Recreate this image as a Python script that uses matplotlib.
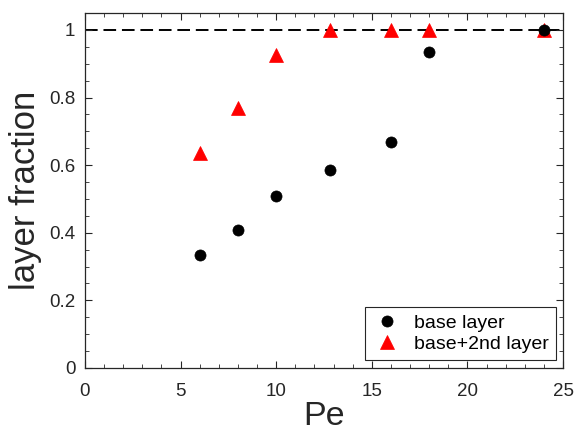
import numpy as np
import matplotlib
matplotlib.use('Agg')
import matplotlib.pyplot as plt
from matplotlib.ticker import MultipleLocator

plt.rcParams['font.family'] = ['Liberation Sans', 'DejaVu Sans']

# data
pe = [6, 8, 10, 12.8, 16, 18, 24]
base_layer = [0.333, 0.407, 0.510, 0.585, 0.667, 0.935, 1.0]
second_layer = [0.636, 0.770, 0.925, 1.0, 1.0, 1.0, 1.0]

fig = plt.figure(figsize=(5.74, 4.38), dpi=100)
ax = fig.add_axes([85/574, 1 - 368/438, (563-85)/574, (368-13)/438])

ax.axhline(1, color='black', ls=(0, (6.5, 3.0)), lw=1.4, zorder=1)
ax.plot(pe, base_layer, 'o', color='black', ms=8, mew=0.5, label='base layer', zorder=3)
ax.plot(pe, second_layer, '^', color='red', ms=9.5, mew=0.5, label='base+2nd layer', zorder=2)

ax.set_xlim(0, 25)
ax.set_ylim(0, 1.05)
ax.xaxis.set_major_locator(MultipleLocator(5))
ax.xaxis.set_minor_locator(MultipleLocator(1))
ax.yaxis.set_minor_locator(MultipleLocator(0.05))
ax.set_yticks([0, 0.2, 0.4, 0.6, 0.8, 1.0])
ax.set_yticklabels(['0', '0.2', '0.4', '0.6', '0.8', '1'])
ax.tick_params(which='both', direction='in', top=True, right=True, labelsize=13.5, colors='#262626')
ax.tick_params(which='major', length=5, width=0.8)
ax.tick_params(which='minor', length=3, width=0.6)
ax.tick_params(axis='x', which='major', pad=11)
ax.tick_params(axis='y', which='major', pad=7)
for s in ax.spines.values():
    s.set_color('#262626')
    s.set_linewidth(0.9)

ax.set_xlabel('Pe', fontsize=24.5, color='#262626', labelpad=0.5)
ax.set_ylabel('layer fraction', fontsize=25, color='#262626', labelpad=5)

leg = ax.legend(loc='lower right', bbox_to_anchor=(0.985, 0.0225), borderaxespad=0,
                fontsize=14, fancybox=False, edgecolor='#262626', framealpha=1,
                handlelength=1.6, handletextpad=0.6, borderpad=0.35, labelspacing=0.2,
                numpoints=1)
leg.get_frame().set_linewidth(0.8)

fig.savefig('out.png', dpi=100)
